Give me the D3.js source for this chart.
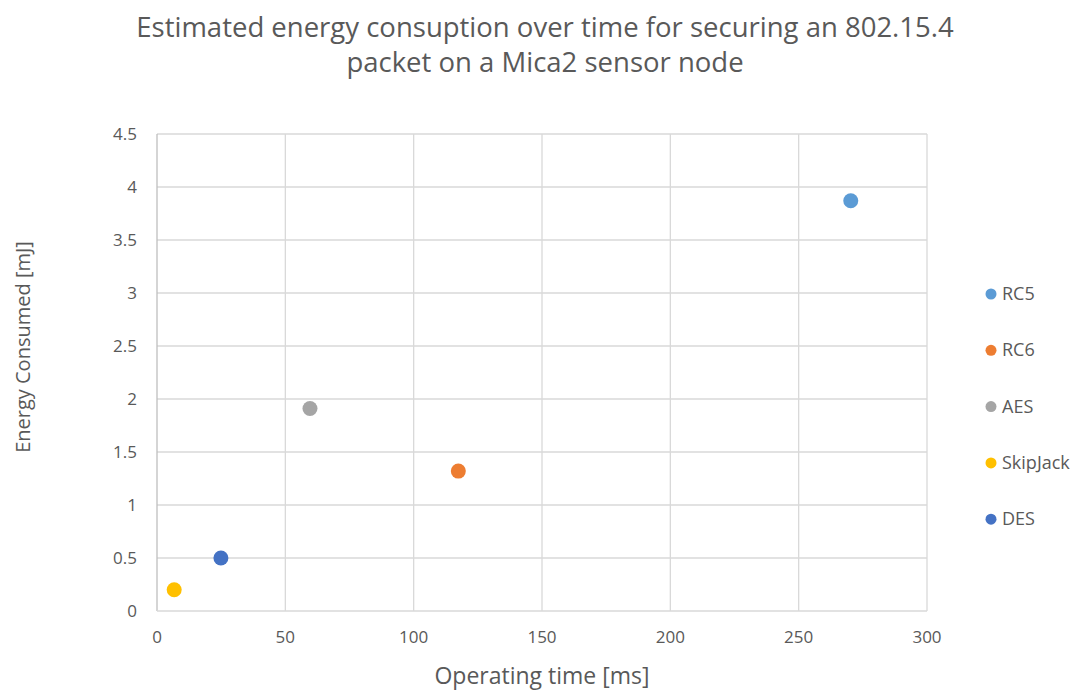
<!DOCTYPE html>
<html>
<head>
<meta charset="utf-8">
<script src="https://cdn.jsdelivr.net/npm/d3@7"></script>
<style>
  body { margin: 0; background: #fff; }
  text { font-family: "Open Sans", "Liberation Sans", sans-serif; fill: #595959; }
</style>
</head>
<body>
<svg id="chart" width="1078" height="693"></svg>
<script>
/* ───────── data ───────── */
const series   = ["RC5", "RC6", "AES", "SkipJack", "DES"];
const timeMs   = [270.3, 117.4, 59.6, 6.7, 24.9];
const energyMJ = [3.87, 1.32, 1.91, 0.2, 0.5];
const colors   = ["#5B9BD5", "#ED7D31", "#A5A5A5", "#FFC000", "#4472C4"];
const xTicks   = [0, 50, 100, 150, 200, 250, 300];
const yTicks   = [0, 0.5, 1, 1.5, 2, 2.5, 3, 3.5, 4, 4.5];

const points = series.map((s, i) => ({ name: s, x: timeMs[i], y: energyMJ[i], color: colors[i] }));

/* ───────── layout ───────── */
const svg = d3.select("#chart");
const plot = { left: 157, right: 927, top: 134, bottom: 611 };

const x = d3.scaleLinear().domain([0, 300]).range([plot.left, plot.right]);
const y = d3.scaleLinear().domain([0, 4.5]).range([plot.bottom, plot.top]);

/* gridlines */
svg.append("g").selectAll("line.v")
  .data(xTicks.slice(1))
  .join("line")
  .attr("x1", d => x(d)).attr("x2", d => x(d))
  .attr("y1", plot.top).attr("y2", plot.bottom)
  .attr("stroke", "#d9d9d9").attr("stroke-width", 1.3);

svg.append("g").selectAll("line.h")
  .data(yTicks.slice(1))
  .join("line")
  .attr("x1", plot.left).attr("x2", plot.right)
  .attr("y1", d => y(d)).attr("y2", d => y(d))
  .attr("stroke", "#d9d9d9").attr("stroke-width", 1.3);

/* axes lines */
svg.append("line")
  .attr("x1", plot.left).attr("x2", plot.left)
  .attr("y1", plot.top).attr("y2", plot.bottom)
  .attr("stroke", "#bfbfbf").attr("stroke-width", 1.3);
svg.append("line")
  .attr("x1", plot.left).attr("x2", plot.right)
  .attr("y1", plot.bottom).attr("y2", plot.bottom)
  .attr("stroke", "#d9d9d9").attr("stroke-width", 1.3);

/* tick labels */
svg.append("g").selectAll("text")
  .data(xTicks)
  .join("text")
  .attr("x", d => x(d))
  .attr("y", 643)
  .attr("text-anchor", "middle")
  .style("font-size", "17px")
  .text(d => d);

svg.append("g").selectAll("text")
  .data(yTicks)
  .join("text")
  .attr("x", 137)
  .attr("y", d => y(d) + 6)
  .attr("text-anchor", "end")
  .style("font-size", "17px")
  .text(d => d);

/* points */
svg.append("g").selectAll("circle")
  .data(points)
  .join("circle")
  .attr("cx", d => x(d.x))
  .attr("cy", d => y(d.y))
  .attr("r", 7.5)
  .attr("fill", d => d.color);

/* title */
const title = svg.append("text")
  .attr("x", 545).attr("y", 37)
  .attr("text-anchor", "middle")
  .style("font-size", "27.5px");
title.append("tspan").attr("x", 545).text("Estimated energy consuption over time for securing an 802.15.4");
title.append("tspan").attr("x", 545).attr("dy", 35).text("packet on a Mica2 sensor node");

/* axis titles */
svg.append("text")
  .attr("x", 542).attr("y", 684)
  .attr("text-anchor", "middle")
  .style("font-size", "23px")
  .text("Operating time [ms]");

svg.append("text")
  .attr("transform", "translate(30,347) rotate(-90)")
  .attr("text-anchor", "middle")
  .style("font-size", "20px")
  .text("Energy Consumed [mJ]");

/* legend */
const legend = svg.append("g").selectAll("g")
  .data(points)
  .join("g")
  .attr("transform", (d, i) => `translate(991,${294 + i * 56.3})`);
legend.append("circle").attr("r", 5.5).attr("fill", d => d.color);
legend.append("text")
  .attr("x", 11).attr("y", 6)
  .style("font-size", "18px")
  .text(d => d.name);
</script>
</body>
</html>
